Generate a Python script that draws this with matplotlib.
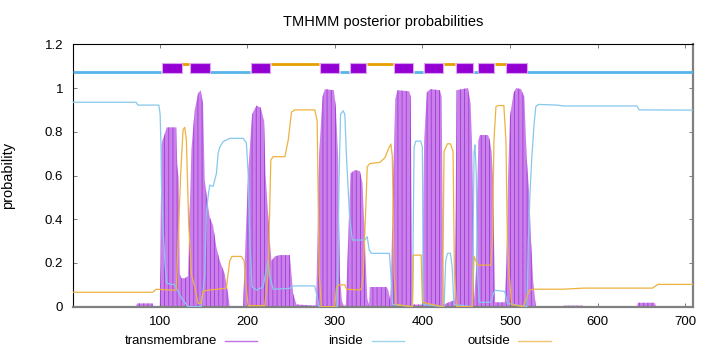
import matplotlib
matplotlib.use("Agg")
import matplotlib.pyplot as plt
from matplotlib.lines import Line2D

plt.rcParams['font.family'] = ['Liberation Sans', 'DejaVu Sans']
plt.rcParams['hatch.linewidth'] = 0.6

# protein length and tick labels
seq_len = 709
x_ticks = [100, 200, 300, 400, 500, 600, 700]
y_ticks = [0, 0.2, 0.4, 0.6, 0.8, 1.0, 1.2]
y_tick_labels = ['0', '0.2', '0.4', '0.6', '0.8', '1', '1.2']

# posterior probability of transmembrane
tm_pos = [1, 73, 74, 92, 93, 100, 101, 101.8, 103, 105, 108, 119, 120, 121.6, 123,
          125, 128.6, 132.4, 134.3, 136.2, 140, 143.8, 146.9, 149.5, 151.4, 155.2,
          157.1, 161, 164.8, 168.6, 174.3, 178.1, 180, 195.2, 198, 201, 205.5, 210.5,
          215.4, 219.2, 220.8, 225.7, 227.6, 231.4, 237.1, 248.6, 252.4, 256.2, 278,
          279, 282.1, 285.9, 288.6, 298.9, 301.1, 303.8, 305.7, 308, 310.3, 312.6,
          315.2, 317.9, 322.9, 328.6, 331.6, 334.3, 337, 339.2, 340, 359, 361, 363,
          364, 366.7, 369, 371.4, 385, 386.6, 388.6, 399.5, 400, 402, 405, 409, 420,
          422, 424, 436.6, 438, 439, 452, 455, 456.6, 459, 461.5, 463.8, 465.7, 475,
          477, 479, 480.5, 483, 494, 496, 497.9, 500, 504, 507, 512.6, 516.4, 519,
          522, 524, 526.5, 529.5, 561, 562, 583, 584, 645, 646, 665, 667, 709]
tm_prob = [0, 0, 0.015, 0.015, 0, 0, 0.2, 0.73, 0.76, 0.78, 0.82, 0.82, 0.65, 0.59, 0.15,
           0.13, 0.13, 0.14, 0.44, 0.72, 0.9, 0.976, 0.99, 0.93, 0.58, 0.46,
           0.41, 0.37, 0.27, 0.21, 0.15, 0.06, 0.0, 0.0, 0.3, 0.61, 0.88, 0.92,
           0.91, 0.85, 0.61, 0.305, 0.21, 0.23, 0.236, 0.236, 0.06, 0.01, 0.005,
           0.09, 0.70, 0.96, 0.995, 0.99, 0.915, 0.686, 0.145, 0.03, 0.0, 0.01,
           0.305, 0.61, 0.625, 0.62, 0.564, 0.305, 0.04, 0.0, 0.09, 0.09, 0.076, 0.03,
           0.1, 0.58, 0.95, 0.99, 0.985, 0.96, 0.01, 0.01, 0.05, 0.76, 0.98, 0.995, 0.99,
           0.96, 0.01, 0.03, 0.457, 0.99, 1.0, 0.93, 0.76, 0.03, 0.18, 0.76, 0.785, 0.785,
           0.76, 0.71, 0.6, 0.02, 0.02, 0.2, 0.61, 0.87, 0.976, 1.0, 0.995, 0.96, 0.686,
           0.52, 0.305, 0.12, 0.0, 0.0, 0.005, 0.005, 0.0, 0.0, 0.018, 0.018, 0.0, 0.0]

# posterior probability of inside
in_pos = [1, 73, 75, 99, 100.5, 101.5, 102, 104, 106, 108, 117.1, 124.8, 132.4, 147.6,
          151.4, 153.3, 155.2, 157.1, 161, 162.9, 164.8, 166.7, 168.6, 172.4, 180,
          195.2, 199, 201, 202.9, 205.5, 210.5, 218.1, 220.8, 223.8, 225.7, 229.5,
          248.6, 252.4, 277, 279, 282, 302.7, 305, 306.5, 309.5, 311.4, 313.3, 317,
          320, 334.3, 337, 339.2, 341.9, 362.3, 364, 366, 388.6, 390.5, 392.4, 398,
          400, 401, 424.7, 426.6, 428.6, 432, 434, 436, 457, 459, 460, 461.5, 463,
          465, 477, 479, 481, 483, 494, 497, 519.4, 521, 523, 525, 527.6, 529.5,
          532.6, 553.5, 561, 645, 647.6, 709]
in_prob = [0.935, 0.935, 0.922, 0.922, 0.88, 0.73, 0.55, 0.35, 0.2, 0.107, 0.1, 0.04, 0.0, 0.0,
           0.14, 0.43, 0.50, 0.556, 0.55, 0.58, 0.61, 0.70, 0.73, 0.755, 0.77,
           0.77, 0.75, 0.61, 0.305, 0.09, 0.076, 0.09, 0.15, 0.21, 0.14, 0.08,
           0.084, 0.095, 0.095, 0.06, 0.0, 0.0, 0.61, 0.88, 0.896, 0.88, 0.686, 0.4,
           0.305, 0.305, 0.32, 0.26, 0.244, 0.244, 0.15, 0.01, 0.0, 0.73, 0.757, 0.757,
           0.73, 0.01, 0.0, 0.21, 0.244, 0.244, 0.18, 0.01, 0.0, 0.71, 0.74, 0.61, 0.15,
           0.02, 0.02, 0.03, 0.06, 0.075, 0.07, 0.015, 0.0, 0.305, 0.53, 0.686, 0.839, 0.915,
           0.925, 0.922, 0.918, 0.918, 0.9, 0.899]

# posterior probability of outside
out_pos = [1, 92, 96, 117.1, 119, 121, 124, 126.7, 128.6, 130.5, 133.1, 136.2, 140,
           143.8, 146.9, 149.5, 155.2, 166.7, 176.2, 178.1, 180, 182.7, 193.3, 196.4,
           197.9, 201, 220, 223.8, 225.7, 226.9, 229.5, 242.9, 246.7, 250.5, 254.3,
           277.1, 279.8, 282.1, 284.8, 300, 301.9, 305, 311.4, 313.3, 328.6, 330.5,
           332.4, 335.4, 337, 340, 351.4, 357, 361, 364, 365.6, 366.6, 367.6, 370,
           388.6, 389.7, 398.6, 400, 423, 424.7, 428.6, 432, 435, 436.6, 439, 457,
           459, 461, 463, 478, 480, 481.7, 484, 486.6, 493, 495.4, 497, 499, 502, 515,
           519, 522, 527, 561, 584, 662.6, 669, 709]
out_prob = [0.066, 0.066, 0.08, 0.075, 0.08, 0.30, 0.61, 0.81, 0.82, 0.76, 0.38, 0.15, 0.09,
            0.015, 0.015, 0.07, 0.076, 0.08, 0.085, 0.15, 0.21, 0.23, 0.23, 0.21,
            0.12, 0.005, 0.005, 0.15, 0.457, 0.67, 0.686, 0.686, 0.76, 0.89, 0.9,
            0.9, 0.85, 0.15, 0.0, 0.0, 0.09, 0.1, 0.1, 0.08, 0.076, 0.085,
            0.15, 0.457, 0.64, 0.655, 0.66, 0.68, 0.72, 0.744, 0.69, 0.457, 0.15, 0.01,
            0.0, 0.236, 0.236, 0.02, 0.0, 0.71, 0.745, 0.745, 0.71, 0.15, 0.0, 0.0,
            0.23, 0.21, 0.19, 0.19, 0.3, 0.76, 0.915, 0.92, 0.92, 0.76, 0.305, 0.15, 0.01, 0.0,
            0.04, 0.075, 0.08, 0.08, 0.085, 0.085, 0.102, 0.102]

# predicted topology (start, end)
tm_segments = [(103, 125), (135, 157), (204, 226), (283, 305), (317, 336),
               (367, 389), (402, 424), (438, 458), (464, 482), (496, 519)]
inside_segments = [(1, 102), (158, 203), (306, 316), (390, 401), (459, 463), (520, 709)]
outside_segments = [(126, 134), (227, 282), (337, 366), (425, 437), (483, 495)]

c_tm, c_in, c_out = '#9400D3', '#56B4E9', '#E69F00'

fig = plt.figure(figsize=(7.2, 3.52), dpi=100)
ax = fig.add_axes([73 / 720, 1 - 306.7 / 352, 620 / 720, 262.4 / 352])

ax.fill_between(tm_pos, 0, tm_prob, facecolor='#ca80ea', edgecolor='#a23ad6',
                hatch='||||', linewidth=0, zorder=1)
ax.plot(in_pos, in_prob, color='#86c8ee', lw=0.9, zorder=3)
ax.plot(out_pos, out_prob, color='#eeb23e', lw=0.9, zorder=3)

# topology bar on top
for s, e in inside_segments:
    ax.plot([s, e], [1.072, 1.072], color=c_in, lw=2.0, solid_capstyle='butt', zorder=4)
for s, e in outside_segments:
    ax.plot([s, e], [1.111, 1.111], color=c_out, lw=2.0, solid_capstyle='butt', zorder=4)
ax.bar([s for s, e in tm_segments], 0.046, width=[e - s for s, e in tm_segments],
       bottom=1.067, align='edge', color=c_tm, edgecolor='#d9a6ef', linewidth=0.8, zorder=5)

ax.set_xlim(1, seq_len)
ax.set_ylim(0, 1.2)
ax.set_xticks(x_ticks)
ax.set_yticks(y_ticks)
ax.set_yticklabels(y_tick_labels)
ax.tick_params(direction='in', length=3, width=0.6, color='#666666', labelsize=9.5,
               top=True, right=True)
ax.tick_params(axis='y', pad=7)
ax.tick_params(axis='x', pad=6.5)

for side in ['left', 'top']:
    ax.spines[side].set_color('black')
    ax.spines[side].set_linewidth(0.8)
for side in ['bottom', 'right']:
    ax.spines[side].set_color('#808080')
    ax.spines[side].set_linewidth(1.6)

ax.set_ylabel('probability', fontsize=10.5)
ax.yaxis.set_label_coords(-0.094, 0.5)

fig.text(383 / 720, 1 - 21.7 / 352, 'TMHMM posterior probabilities',
         ha='center', va='center', fontsize=10.5)

# key at the bottom
key_y = 1 - 341 / 352
key_items = [('transmembrane', '#bf72e6', 217, 225, 257),
             ('inside', '#9fd2ee', 363, 372, 404),
             ('outside', '#f0c36e', 510, 518, 551)]
for label, col, tx, l0, l1 in key_items:
    fig.text(tx / 720, key_y, label, ha='right', va='center', fontsize=9.5)
    fig.add_artist(Line2D([l0 / 720, l1 / 720], [key_y, key_y], color=col, lw=1.0,
                          transform=fig.transFigure))

fig.savefig('out.png', dpi=100)
